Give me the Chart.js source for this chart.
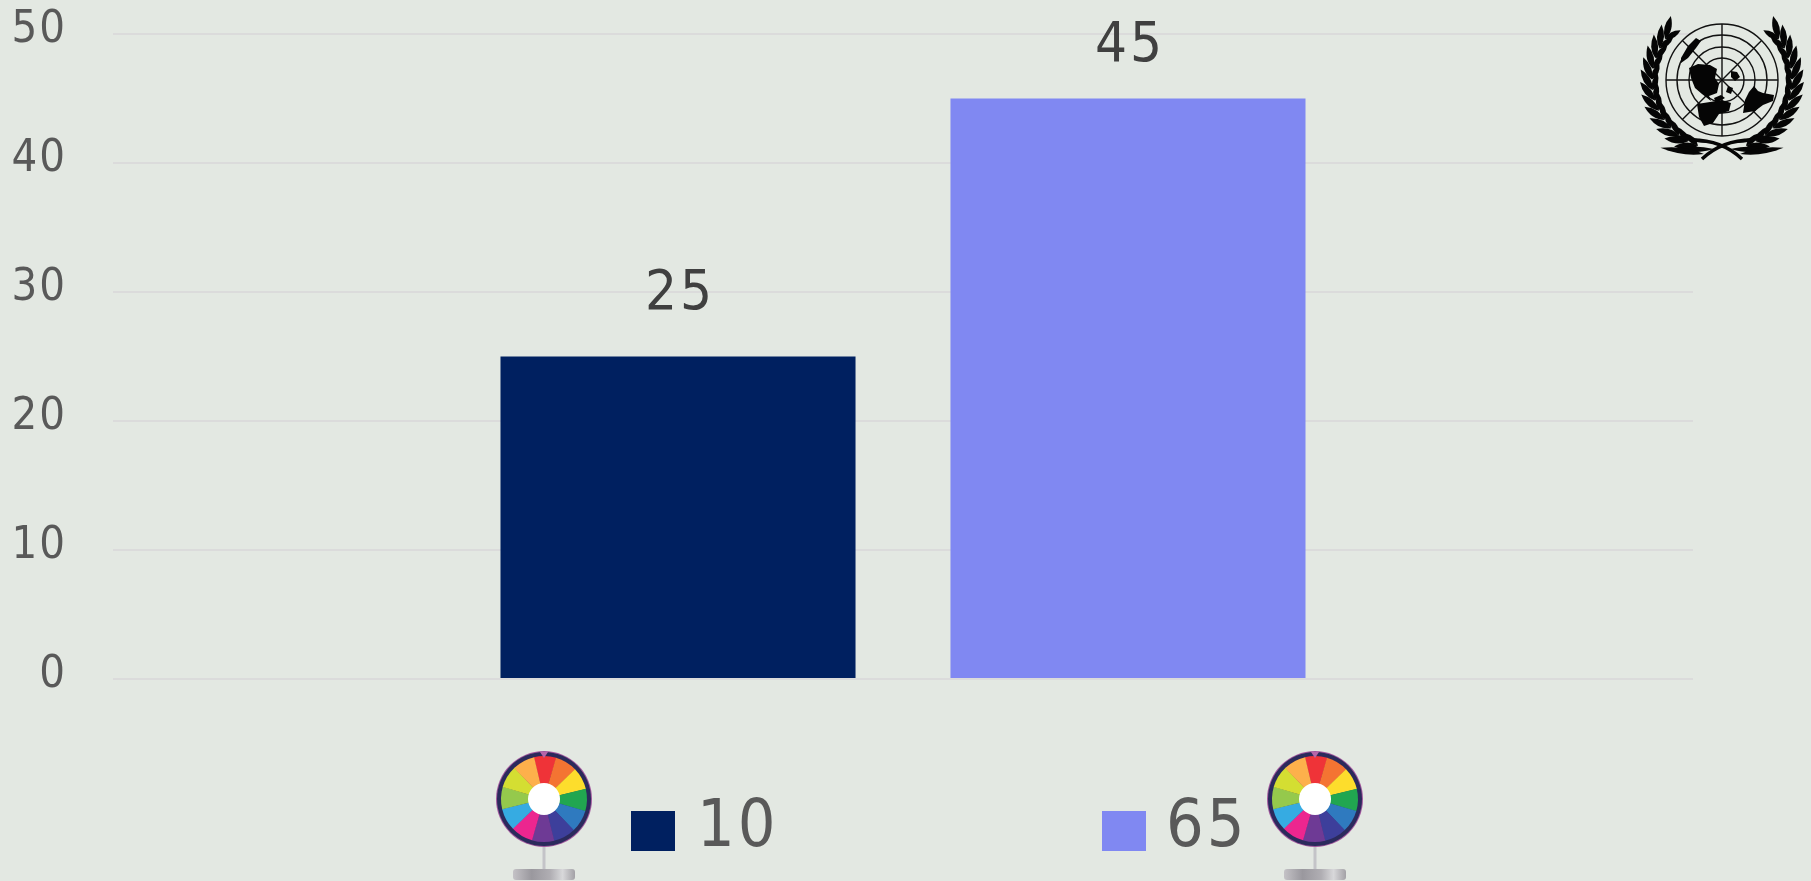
<!DOCTYPE html>
<html>
<head>
<meta charset="utf-8">
<style>
  html, body { margin: 0; padding: 0; background: #e3e8e2; }
  #wrap { width: 1811px; height: 881px; }
</style>
<script src="https://cdn.jsdelivr.net/npm/chart.js@4"></script>
</head>
<body>
<div id="wrap"><canvas id="myChart" width="1811" height="881"></canvas></div>
<script>
const categories = [""];
const seriesNames = ["10", "65"];
const seriesValues = [[25], [45]];
const seriesColors = ["#002060", "#8088f2"];
const yTicks = [0, 10, 20, 30, 40, 50];

const FONT = '"DejaVu Sans Condensed", "DejaVu Sans"';
const wheelColors = ["#ef3338", "#f47432", "#fddd2c", "#21a650", "#2f7abf", "#3d3f9b",
  "#6e3a95", "#ec268f", "#36abe2", "#95c94c", "#d4de32", "#fdb04b"];

function drawWheel(ctx, cx, cy) {
  // stand
  ctx.fillStyle = "#c4c4c8";
  ctx.fillRect(cx - 1.5, cy + 46, 3, 26);
  const g = ctx.createLinearGradient(cx - 31, 0, cx + 31, 0);
  g.addColorStop(0, "#c4c2c6");
  g.addColorStop(0.3, "#9a989e");
  g.addColorStop(0.6, "#b0aeb3");
  g.addColorStop(0.8, "#d8d8da");
  g.addColorStop(1, "#a3a1a6");
  ctx.fillStyle = g;
  ctx.beginPath();
  ctx.roundRect(cx - 31, cy + 70, 62, 11, 3);
  ctx.fill();
  // rim
  ctx.fillStyle = "#a2579d";
  ctx.beginPath(); ctx.arc(cx, cy, 48, 0, Math.PI * 2); ctx.fill();
  ctx.fillStyle = "#2b2a5c";
  ctx.beginPath(); ctx.arc(cx, cy, 47, 0, Math.PI * 2); ctx.fill();
  // slices, first one centred on the top
  wheelColors.forEach((c, i) => {
    const a = -Math.PI / 2 + (i - 0.5) * Math.PI / 6 + 0.02;
    ctx.fillStyle = c;
    ctx.beginPath();
    ctx.moveTo(cx, cy);
    ctx.arc(cx, cy, 43, a, a + Math.PI / 6 + 0.01);
    ctx.closePath();
    ctx.fill();
  });
  ctx.fillStyle = "#ffffff";
  ctx.beginPath(); ctx.arc(cx, cy, 16, 0, Math.PI * 2); ctx.fill();
  // pointer
  ctx.fillStyle = "#b565a8";
  ctx.beginPath();
  ctx.moveTo(cx - 4, cy - 47); ctx.lineTo(cx + 4, cy - 47); ctx.lineTo(cx, cy - 41);
  ctx.closePath(); ctx.fill();
}

function blob(ctx, pts) {
  ctx.beginPath();
  pts.forEach((p, i) => i ? ctx.lineTo(p[0], p[1]) : ctx.moveTo(p[0], p[1]));
  ctx.closePath();
  ctx.fill();
}

function drawLeaf(ctx, x, y, ang, len, wid) {
  ctx.save();
  ctx.translate(x, y);
  ctx.rotate(ang);
  ctx.beginPath();
  ctx.moveTo(0, 0);
  ctx.quadraticCurveTo(len * 0.45, -wid, len, 0);
  ctx.quadraticCurveTo(len * 0.45, wid, 0, 0);
  ctx.fill();
  ctx.restore();
}

function drawEmblem(ctx, cx, cy) {
  ctx.strokeStyle = "#111";
  ctx.fillStyle = "#050505";
  ctx.lineWidth = 1.4;
  [56, 45, 33, 22].forEach(r => {
    ctx.beginPath(); ctx.arc(cx, cy, r, 0, Math.PI * 2); ctx.stroke();
  });
  // meridians
  for (let i = 0; i < 8; i++) {
    const a = i * Math.PI / 4;
    ctx.beginPath();
    ctx.moveTo(cx, cy);
    ctx.lineTo(cx + 56 * Math.cos(a), cy + 56 * Math.sin(a));
    ctx.stroke();
  }
  // continents
  ctx.save();
  ctx.translate(cx, cy);
  blob(ctx, [[-26,-42],[-21,-39],[-26,-32],[-34,-22],[-41,-17],[-41,-22],[-34,-34]]);
  blob(ctx, [[-33,-12],[-24,-16],[-12,-15],[-5,-11],[-7,-2],[-3,4],[-5,13],[-13,16],[-11,21],[-20,14],[-27,8],[-31,-2]]);
  blob(ctx, [[-25,24],[-12,22],[0,20],[9,23],[7,31],[-3,34],[-9,43],[-18,46],[-23,37]]);
  blob(ctx, [[32,6],[36,11],[41,13],[52,15],[51,21],[41,25],[33,31],[21,33],[23,20],[27,12]]);
  blob(ctx, [[9,-9],[15,-8],[18,-3],[13,1],[9,-3]]);
  blob(ctx, [[6,6],[11,8],[9,14],[4,12]]);
  blob(ctx, [[-8,18],[-1,15],[3,18],[-6,23]]);
  // wreath, one branch per side
  [-1, 1].forEach(side => {
    ctx.save();
    ctx.scale(side, 1);
    for (let deg = 70; deg >= -36; deg -= 8.8) {
      const a = deg * Math.PI / 180;
      const x = 70 * Math.cos(a), y = 70 * Math.sin(a);
      const up = a - Math.PI / 2;
      drawLeaf(ctx, x, y, up + 0.38, 24, 7);
      drawLeaf(ctx, x, y, up - 0.42, 18, 6);
    }
    // long leaves under the globe
    drawLeaf(ctx, 8, 69, 0.02, 48, 6);
    drawLeaf(ctx, 18, 74, -0.14, 44, 6);
    drawLeaf(ctx, 12, 63, -0.2, 42, 4);
    // crossing stems
    ctx.lineWidth = 3.5;
    ctx.strokeStyle = "#050505";
    ctx.beginPath();
    ctx.moveTo(-20, 79);
    ctx.quadraticCurveTo(0, 60, 30, 60);
    ctx.stroke();
    ctx.restore();
  });
  ctx.restore();
}

const decorations = {
  id: "decorations",
  beforeDraw(chart) {
    // reference digits are a little wider than the condensed face
    chart.ctx.letterSpacing = "2px";
  },
  afterDraw(chart) {
    const ctx = chart.ctx;
    // custom legend
    const swatchX = [631, 1102];
    const textX = [697, 1166];
    ctx.letterSpacing = "3px";
    chart.data.datasets.forEach((ds, i) => {
      ctx.fillStyle = ds.backgroundColor;
      ctx.fillRect(swatchX[i], 811, 44, 40);
      ctx.fillStyle = "#595959";
      ctx.font = "66px " + FONT;
      ctx.textAlign = "left";
      ctx.textBaseline = "alphabetic";
      ctx.fillText(ds.label, textX[i], 846);
    });
    ctx.letterSpacing = "0px";
    drawWheel(ctx, 544, 799);
    drawWheel(ctx, 1315, 799);
    drawEmblem(ctx, 1722, 80);
  }
};

const valueLabels = {
  id: "valueLabels",
  afterDatasetsDraw(chart) {
    const ctx = chart.ctx;
    const rise = [48, 38];
    chart.data.datasets.forEach((ds, i) => {
      const bar = chart.getDatasetMeta(i).data[0];
      ctx.letterSpacing = "3px";
      ctx.fillStyle = "#404040";
      ctx.font = "56px " + FONT;
      ctx.textAlign = "center";
      ctx.textBaseline = "alphabetic";
      ctx.fillText(ds.data[0], bar.x + 2, bar.y - rise[i]);
      ctx.letterSpacing = "2px";
    });
  }
};

new Chart(document.getElementById("myChart"), {
  type: "bar",
  data: {
    labels: categories,
    datasets: seriesNames.map((name, i) => ({
      label: name,
      data: seriesValues[i],
      backgroundColor: seriesColors[i],
      categoryPercentage: 0.5696,
      barPercentage: 0.789
    }))
  },
  options: {
    responsive: false,
    animation: false,
    layout: { padding: { top: 34, right: 118, bottom: 202, left: 0 } },
    plugins: { legend: { display: false }, tooltip: { enabled: false } },
    scales: {
      x: { display: false },
      y: {
        min: 0,
        max: 50,
        afterBuildTicks(axis) { axis.ticks = yTicks.map(v => ({ value: v })); },
        afterFit(axis) {
          axis.width = 113;
          axis.paddingTop = 0;
          axis.paddingBottom = 0;
        },
        grid: { color: "#dbdbdb", lineWidth: 2, drawTicks: false },
        border: { display: false },
        ticks: {
          color: "#595959",
          padding: 46,
          labelOffset: -4,
          font: { family: FONT, size: 45 }
        }
      }
    }
  },
  plugins: [valueLabels, decorations]
});
</script>
</body>
</html>
